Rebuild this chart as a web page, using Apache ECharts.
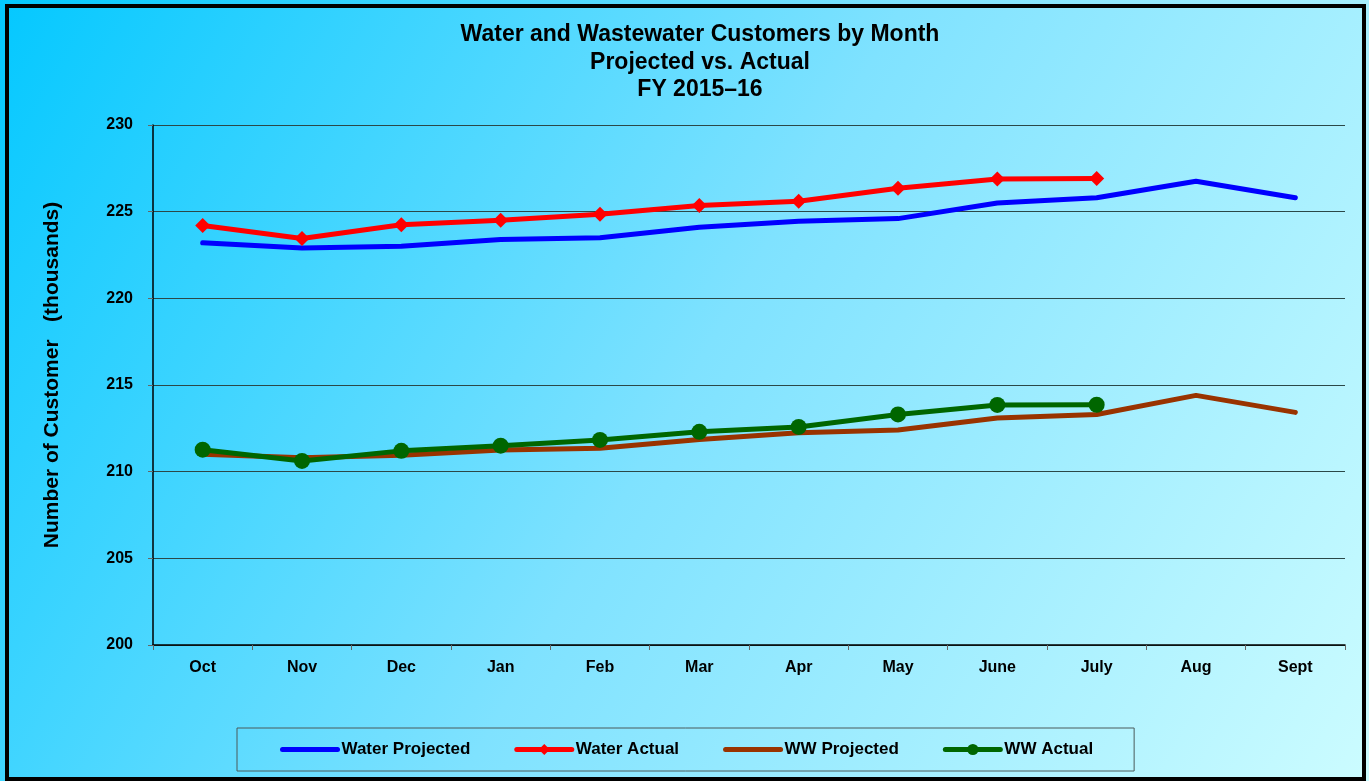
<!DOCTYPE html>
<html lang="en">
<head>
    <meta charset="UTF-8">
    <title>Water and Wastewater Customers by Month</title>
    <style>
        body{
            margin: 0;
            background: #fff;
            overflow: hidden;
        }
    </style>
</head>
<body>
<div id="main" style="width: 1369px;height:781px;"></div>
<script src="https://cdn.jsdelivr.net/npm/echarts@6/dist/echarts.min.js"></script>
<script type="text/javascript">
    // data (thousands of customers)
    var months = ['Oct', 'Nov', 'Dec', 'Jan', 'Feb', 'Mar', 'Apr', 'May', 'June', 'July', 'Aug', 'Sept'];
    var waterProjected = [223.2, 222.9, 223.0, 223.4, 223.5, 224.1, 224.45, 224.6, 225.5, 225.8, 226.75, 225.8];
    var waterActual = [224.2, 223.45, 224.25, 224.5, 224.85, 225.35, 225.6, 226.35, 226.88, 226.92, null, null];
    var wwProjected = [211.0, 210.8, 210.95, 211.25, 211.35, 211.85, 212.25, 212.4, 213.1, 213.3, 214.4, 213.42];
    var wwActual = [211.27, 210.62, 211.2, 211.5, 211.83, 212.3, 212.58, 213.3, 213.85, 213.86, null, null];

    var myChart = echarts.init(document.getElementById('main'));
    var font = '"Liberation Sans", Arial, sans-serif';
    var option = {
        backgroundColor: {
            type: 'linear', x: 0, y: 0, x2: 1, y2: 1,
            colorStops: [
                {offset: 0, color: '#04c8ff'},
                {offset: 0.5, color: '#7fe2ff'},
                {offset: 1, color: '#ccfcff'}
            ]
        },
        graphic: [{
            type: 'rect',
            shape: {x: 7, y: 6, width: 1357, height: 773},
            style: {fill: 'none', stroke: '#000', lineWidth: 4},
            silent: true
        }],
        title: {
            text: 'Water and Wastewater Customers by Month\nProjected vs. Actual\nFY 2015\u201316',
            left: 695,
            top: 16,
            textAlign: 'center',
            textStyle: {
                fontFamily: font,
                fontSize: 23,
                fontWeight: 'bold',
                color: '#000',
                lineHeight: 27.5
            }
        },
        legend: {
            left: 237,
            top: 728,
            padding: [13, 41, 13, 43],
            itemGap: 44,
            itemWidth: 55,
            itemHeight: 14,
            borderColor: '#4a5a5a',
            borderWidth: 1,
            lineStyle: {width: 5},
            textStyle: {
                fontFamily: font,
                fontSize: 17,
                fontWeight: 'bold',
                color: '#000',
                padding: [0, 0, 0, -1]
            },
            data: [
                {name: 'Water Projected', itemStyle: {opacity: 0}},
                {name: 'Water Actual'},
                {name: 'WW Projected', itemStyle: {opacity: 0}},
                {name: 'WW Actual'}
            ]
        },
        grid: {
            left: 153,
            right: 24,
            top: 125,
            bottom: 136
        },
        xAxis: {
            type: 'category',
            data: months,
            boundaryGap: true,
            axisLine: {lineStyle: {color: '#000', width: 1.5}},
            axisTick: {show: true, length: 5, alignWithLabel: false, lineStyle: {color: '#666'}},
            axisLabel: {
                margin: 15,
                fontFamily: font,
                fontSize: 16,
                fontWeight: 'bold',
                color: '#000'
            }
        },
        yAxis: {
            type: 'value',
            min: 200,
            max: 230,
            interval: 5,
            name: 'Number of Customer   (thousands)',
            nameLocation: 'middle',
            nameGap: 90,
            nameRotate: 90,
            nameTextStyle: {
                fontFamily: font,
                fontSize: 21,
                fontWeight: 'bold',
                color: '#000',
                padding: [0, 0, 0, 20]
            },
            axisLine: {show: true, lineStyle: {color: '#000', width: 1.5}},
            axisTick: {show: true, length: 5, lineStyle: {color: '#666'}},
            axisLabel: {
                margin: 20,
                fontFamily: font,
                fontSize: 16,
                fontWeight: 'bold',
                color: '#000'
            },
            splitLine: {lineStyle: {color: '#2b4848', width: 1}}
        },
        series: [
            {
                name: 'Water Projected',
                type: 'line',
                data: waterProjected,
                symbol: 'none',
                color: '#0000ff',
                lineStyle: {width: 5, cap: 'round', join: 'round'}
            },
            {
                name: 'Water Actual',
                type: 'line',
                data: waterActual,
                symbol: 'diamond',
                symbolSize: 15,
                color: '#ff0000',
                itemStyle: {color: '#ff0000'},
                lineStyle: {width: 5, cap: 'round', join: 'round'}
            },
            {
                name: 'WW Projected',
                type: 'line',
                data: wwProjected,
                symbol: 'none',
                color: '#993300',
                lineStyle: {width: 5, cap: 'round', join: 'round'}
            },
            {
                name: 'WW Actual',
                type: 'line',
                data: wwActual,
                symbol: 'circle',
                symbolSize: 16,
                color: '#006600',
                itemStyle: {color: '#006600'},
                lineStyle: {width: 5, cap: 'round', join: 'round'}
            }
        ]
    };
    option && myChart.setOption(option);
</script>
</body>
</html>
